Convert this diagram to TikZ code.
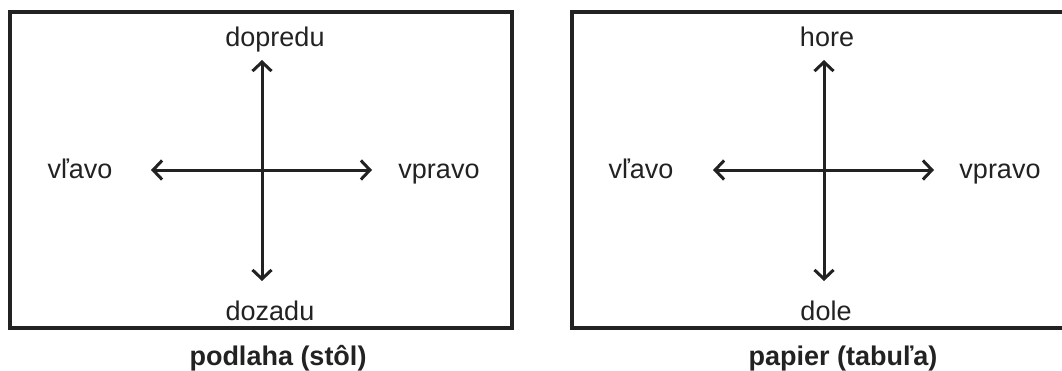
\documentclass[tikz,border=0pt]{standalone}
\usepackage{fontspec}
\setmainfont{Liberation Sans}
\usetikzlibrary{arrows.meta}
\definecolor{ink}{HTML}{222222}
\begin{document}
\begin{tikzpicture}[x=1pt,y=-1pt,
  frame/.style={draw=ink,line width=3.2pt},
  lbl/.style={font=\fontsize{27}{30}\selectfont,text=ink,inner sep=0pt,anchor=base},
  captext/.style={font=\fontsize{27}{30}\selectfont\bfseries,text=ink,inner sep=0pt,anchor=base},
  dirarrow/.style={draw=ink,line width=3pt,{Straight Barb[length=9pt,width=19pt,line width=3pt]}-{Straight Barb[length=9pt,width=19pt,line width=3pt]}}]
\useasboundingbox (0,0) rectangle (1062,370);
\clip (0,0) rectangle (1062,370);
% left panel
\draw[frame] (10,12) rectangle (512,328);
\coordinate (lt) at (262,60);
\coordinate (lb) at (262,281);
\coordinate (ll) at (151,170);
\coordinate (lr) at (372,170);
\draw[dirarrow] (lt) -- (lb);
\draw[dirarrow] (ll) -- (lr);
\node[lbl] (lup) at (275,46) {dopredu};
\node[lbl] (ldown) at (270,320) {dozadu};
\node[lbl] (lleft) at (80,178) {vľavo};
\node[lbl] (lright) at (439,178) {vpravo};
\node[captext] (lcap) at (278,365) {podlaha (stôl)};
% right panel
\draw[frame] (572,12) rectangle (1075,328);
\coordinate (rt) at (824,60);
\coordinate (rb) at (824,281);
\coordinate (rl) at (713,170);
\coordinate (rr) at (934,170);
\draw[dirarrow] (rt) -- (rb);
\draw[dirarrow] (rl) -- (rr);
\node[lbl] (rup) at (827,46) {hore};
\node[lbl] (rdown) at (826,320) {dole};
\node[lbl] (rleft) at (641,178) {vľavo};
\node[lbl] (rright) at (1000,178) {vpravo};
\node[captext] (rcap) at (843,365) {papier (tabuľa)};
\end{tikzpicture}
\end{document}
